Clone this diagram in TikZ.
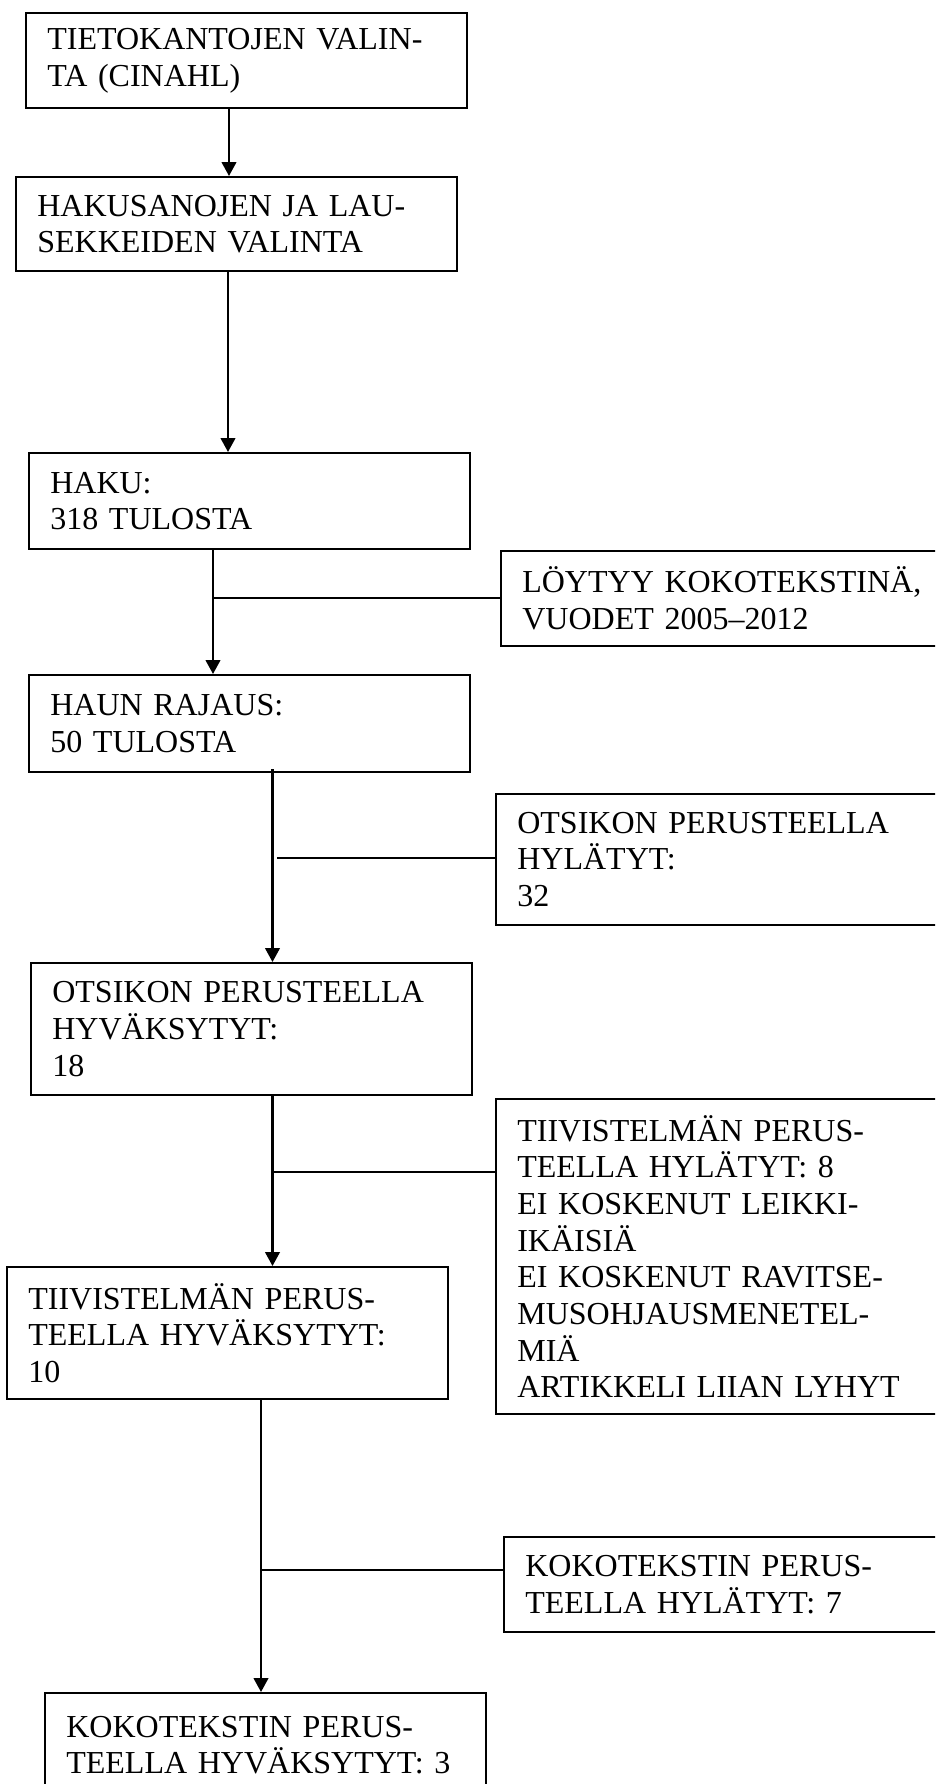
\documentclass[tikz,border=0pt]{standalone}
\usepackage{fontspec}
\setmainfont{Liberation Serif}
\usetikzlibrary{positioning, arrows.meta, calc}

\tikzset{
  box/.style={draw, rectangle, line width=1.5pt, anchor=north west, align=left,
    inner xsep=16pt, text width=298.75pt, font=\fontsize{24}{27.5}\selectfont},
  sidebox/.style={box, text width=313pt},
  flow/.style={line width=1.6pt, -{Triangle[length=10.5pt, width=11pt]}},
  branch/.style={line width=1.5pt}
}

\begin{document}
\begin{tikzpicture}[x=0.75pt, y=-0.75pt]
  \path[use as bounding box, clip] (0,0) rectangle (935,1784);

  \node[box, minimum height=71.25pt] (tietokannat) at (25,12) {TIETOKANTOJEN VALIN-\\TA (CINAHL)};
  \node[box, minimum height=70.5pt] (hakusanat) at (15,176) {HAKUSANOJEN JA LAU-\\SEKKEIDEN VALINTA};
  \node[box, minimum height=72pt] (haku) at (28,452) {HAKU:\\318 TULOSTA};
  \node[box, minimum height=72.75pt] (rajaus) at (28,674) {HAUN RAJAUS:\\50 TULOSTA};
  \node[box, minimum height=99pt] (otsikkohyv) at (30,962) {OTSIKON PERUSTEELLA\\HYVÄKSYTYT:\\18};
  \node[box, minimum height=99pt] (tiivhyv) at (6,1266) {TIIVISTELMÄN PERUS-\\TEELLA HYVÄKSYTYT:\\10};
  \node[box, minimum height=78pt] (kokohyv) at (44,1692) {KOKOTEKSTIN PERUS-\\TEELLA HYVÄKSYTYT: 3};

  \node[sidebox, minimum height=71.25pt] (kokoteksti) at (500,550) {LÖYTYY KOKOTEKSTINÄ,\\VUODET 2005–2012};
  \node[sidebox, minimum height=98.25pt] (otsikkohyl) at (495,793) {OTSIKON PERUSTEELLA\\HYLÄTYT:\\32};
  \node[sidebox, minimum height=236.25pt] (tiivhyl) at (495,1098) {TIIVISTELMÄN PERUS-\\TEELLA HYLÄTYT: 8\\EI KOSKENUT LEIKKI-\\IKÄISIÄ\\EI KOSKENUT RAVITSE-\\MUSOHJAUSMENETEL-\\MIÄ\\ARTIKKELI LIIAN LYHYT};
  \node[sidebox, minimum height=71.25pt] (kokohyl) at (503,1536) {KOKOTEKSTIN PERUS-\\TEELLA HYLÄTYT: 7};

  \coordinate (x1) at (229,0);
  \coordinate (x2) at (228,0);
  \coordinate (x3) at (213,0);
  \coordinate (x4) at (272.5,0);
  \coordinate (x5) at (261,0);

  \draw[flow] (tietokannat.south -| x1) -- (hakusanat.north -| x1);
  \draw[flow] (hakusanat.south -| x2) -- (haku.north -| x2);
  \draw[flow] (haku.south -| x3) -- (rajaus.north -| x3);
  \draw[flow] ([yshift=3pt]rajaus.south -| x4) -- (otsikkohyv.north -| x4);
  \draw[flow] (otsikkohyv.south -| x4) -- (tiivhyv.north -| x4);
  \draw[flow] (tiivhyv.south -| x5) -- (kokohyv.north -| x5);

  \coordinate (j1) at (213,598);
  \coordinate (j2) at (277,858);
  \coordinate (j3) at (272.5,1172);
  \coordinate (j4) at (261,1570);

  \draw[branch] (kokoteksti.west |- j1) -- (j1);
  \draw[branch] (otsikkohyl.west |- j2) -- (j2);
  \draw[branch] (tiivhyl.west |- j3) -- (j3);
  \draw[branch] (kokohyl.west |- j4) -- (j4);
\end{tikzpicture}
\end{document}
